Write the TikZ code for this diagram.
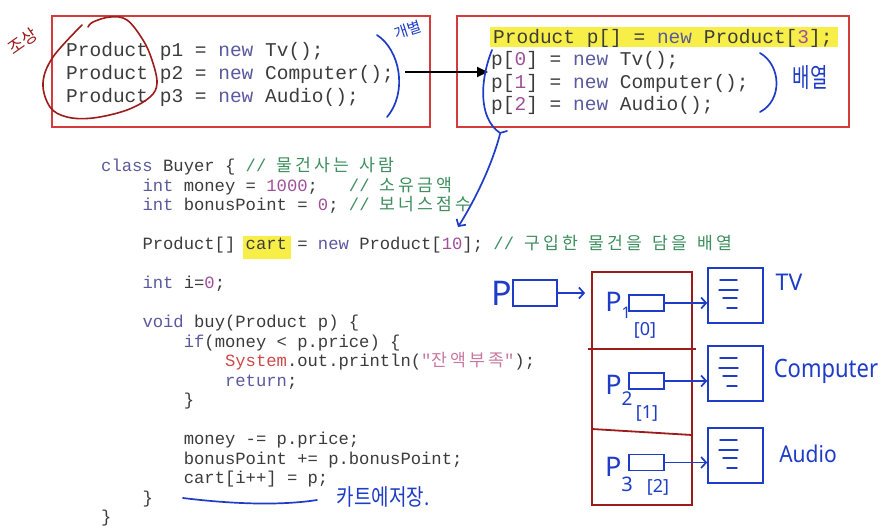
\documentclass[tikz,border=0pt]{standalone}
\usepackage{fontspec}
\setmonofont{Liberation Mono}
\newfontfamily\kr{Noto Sans CJK KR}
\newfontfamily\krs[LetterSpace=18]{Noto Sans CJK KR}
\newfontfamily\hand{Noto Sans}
\usetikzlibrary{arrows.meta}
\definecolor{codegray}{HTML}{3C3C3C}
\definecolor{kwc}{HTML}{5A5A9E}
\definecolor{numc}{HTML}{A0509A}
\definecolor{cmtc}{HTML}{3E8E5E}
\definecolor{sysc}{HTML}{D04848}
\definecolor{strc}{HTML}{C878A0}
\definecolor{boxred}{HTML}{D63A3A}
\definecolor{darkred}{HTML}{9C1C1C}
\definecolor{pen}{HTML}{1E3CC8}
\definecolor{hl}{HTML}{F8EE48}
\newcommand\Kw[1]{\textcolor{kwc}{#1}}
\newcommand\Nm[1]{\textcolor{numc}{#1}}
\newcommand\Cm[1]{\textcolor{cmtc}{#1}}
\newcommand\Sy[1]{\textcolor{sysc}{#1}}
\newcommand\St[1]{\textcolor{strc}{#1}}
\newcommand\K[1]{{\krs #1}}
\tikzset{
  code/.style={font=\fontsize{19.5}{23}\selectfont\ttfamily, text=codegray, anchor=base west, inner sep=0pt},
  bcode/.style={font=\fontsize{17.2}{19.6}\selectfont\ttfamily, text=codegray, anchor=base west, inner sep=0pt},
  redbox/.style={draw=boxred, line width=2.2pt, inner sep=0pt},
  penline/.style={draw=pen, line width=1.7pt, line cap=round},
  penarrow/.style={penline, -{Straight Barb[length=5pt,width=11pt]}},
  penbox/.style={draw=pen, line width=1.5pt, inner sep=0pt},
  pentext/.style={text=pen, inner sep=0pt},
  redpen/.style={draw=darkred, line width=1.6pt, line cap=round},
}
\begin{document}
\begin{tikzpicture}[x=1pt,y=-1pt]
\useasboundingbox (0,0) rectangle (894,531);
\fill[white] (0,0) rectangle (894,531);
% highlights
\fill[hl] (490,27) rectangle (838,47);
\fill[hl] (243,236) rectangle (291,259);
% top boxes
\node[redbox, minimum width=378pt, minimum height=111pt] (lbox) at (241,71.5) {};
\node[redbox, minimum width=392pt, minimum height=111pt] (rbox) at (653,71.5) {};
\node[code] (a1) at (66,56) {Product p1 = \Kw{new} Tv();};
\node[code] (a2) at (66,79) {Product p2 = \Kw{new} Computer();};
\node[code] (a3) at (66,102) {Product p3 = \Kw{new} Audio();};
\node[code] (b0) at (493,43) {Product p[] = \Kw{new} Product[\Nm{3}];};
\node[code] (b1) at (491,65) {p[\Nm{0}] = \Kw{new} Tv();};
\node[code] (b2) at (491,88) {p[\Nm{1}] = \Kw{new} Computer();};
\node[code] (b3) at (491,110) {p[\Nm{2}] = \Kw{new} Audio();};
% black arrow
\coordinate (ast) at (405,72);
\coordinate (aen) at (488,72);
\draw[line width=2pt, -{Triangle[length=11pt,width=10pt]}] (ast) -- (aen);
% bottom code
\node[bcode] (c1) at (101,171.5) {\Kw{class} Buyer \{ \Cm{// \K{물건사는} \K{사람}}};
\node[bcode] (c2) at (142.3,191) {\Kw{int} money = \Nm{1000};~~~\Cm{// \K{소유금액}}};
\node[bcode] (c3) at (142.3,210.5) {\Kw{int} bonusPoint = \Nm{0}; \Cm{// \K{보너스점수}}};
\node[bcode] (c4) at (142.3,249.5) {Product[] cart = \Kw{new} Product[\Nm{10}]; \Cm{// \K{구입한} \K{물건을} \K{담을} \K{배열}}};
\node[bcode] (c5) at (142.3,288.5) {\Kw{int} i=\Nm{0};};
\node[bcode] (c6) at (142.3,327.5) {\Kw{void} buy(Product p) \{};
\node[bcode] (c7) at (183.6,347) {\Kw{if}(money < p.price) \{};
\node[bcode] (c8) at (224.9,366.5) {\Sy{System}.out.println(\St{"\K{잔액부족}"});};
\node[bcode] (c9) at (224.9,386) {\Kw{return};};
\node[bcode] (c10) at (183.6,405.5) {\}};
\node[bcode] (c11) at (183.6,444.5) {money -= p.price;};
\node[bcode] (c12) at (183.6,464) {bonusPoint += p.bonusPoint;};
\node[bcode] (c13) at (183.6,483.5) {cart[i++] = p;};
\node[bcode] (c14) at (142.3,503) {\}};
\node[bcode] (c15) at (101,522.5) {\}};
% red handwriting
\draw[redpen] plot[smooth, tension=0.6] coordinates {(82,25) (53,57) (43,83) (50,107) (67,117) (93,118) (127,110) (150,97) (157,83) (152,60) (143,40) (127,20) (110,17) (93,22) (88,27)};
\node[text=darkred, inner sep=0pt, font=\kr\fontsize{17}{17}\selectfont, rotate=35] (jo) at (23,41) {조상};
% blue handwriting top
\draw[penline] (377,35) .. controls (400,50) and (408,92) .. (387,117);
\node[pentext, font=\kr\fontsize{15}{15}\selectfont, rotate=18] (gb) at (408,30) {개별};
\draw[penline] (492,50) .. controls (480,80) and (478,118) .. (500,133);
\draw[penline] (500,133) -- (507,131);
\coordinate (cst) at (500,134);
\coordinate (cen) at (458,227);
\draw[penarrow] (cst) .. controls (492,165) and (475,200) .. (cen);
\draw[penline] (760,53) .. controls (781,65) and (783,100) .. (760,112);
\node[pentext, font=\kr\fontsize{19}{19}\selectfont, yscale=1.4] (by) at (810,78) {배열};
% bottom annotation
\draw[penline] (183,498) .. controls (240,505) and (285,505) .. (317,500);
\node[pentext, font=\kr\fontsize{19}{19}\selectfont, yscale=1.2] (kt) at (383,497) {카트에저장.};
% array diagram
\node[pentext, font=\hand\fontsize{34}{34}\selectfont] (plab) at (502,293) {P};
\node[penbox, minimum width=44pt, minimum height=26pt] (pbox) at (535,293) {};
\node[draw=darkred, line width=1.8pt, inner sep=0pt, minimum width=100pt, minimum height=233pt] (arr) at (642,388.5) {};
\draw[darkred, line width=1.8pt] (588,349) -- (696,349);
\draw[darkred, line width=1.8pt] (592,429) -- (692,435);
\draw[penarrow, shorten >=6pt] (pbox.east) -- (pbox.east -| arr.west);
\node[penbox, minimum width=35pt, minimum height=16pt] (s1) at (646.5,303) {};
\node[penbox, minimum width=35pt, minimum height=16pt] (s2) at (646.5,381) {};
\node[penbox, minimum width=35pt, minimum height=16pt] (s3) at (646.5,462.5) {};
\node[penbox, minimum width=55pt, minimum height=55pt] (o1) at (735.5,295.5) {};
\node[penbox, minimum width=55pt, minimum height=55pt] (o2) at (735.5,373.5) {};
\node[penbox, minimum width=55pt, minimum height=55pt] (o3) at (735.5,455.5) {};
\foreach \o in {o1,o2,o3}{
  \draw[penline, line width=1.4pt] ([shift={(-15.5,-15.5)}]\o.center) -- ([shift={(1.5,-15.5)}]\o.center);
  \draw[penline, line width=1.4pt] ([shift={(-16.5,-5.5)}]\o.center) -- ([shift={(2.5,-5.5)}]\o.center);
  \draw[penline, line width=1.4pt] ([shift={(-12.5,2.5)}]\o.center) -- ([shift={(1.5,2.5)}]\o.center);
  \draw[penline, line width=1.4pt] ([shift={(-8.5,12.5)}]\o.center) -- ([shift={(1.5,12.5)}]\o.center);
}
\draw[penarrow] (s1.east) -- (o1.west |- s1.east);
\draw[penarrow] (s2.east) -- (o2.west |- s2.east);
\draw[penarrow] (s3.east) -- (o3.west |- s3.east);
\node[pentext, font=\hand\fontsize{27}{27}\selectfont] (p1) at (618,305) {P\raisebox{-7pt}{\fontsize{16}{16}\selectfont 1}};
\node[pentext, font=\hand\fontsize{27}{27}\selectfont] (p2) at (619,390) {P\raisebox{-11pt}{\fontsize{19}{19}\selectfont 2}};
\node[pentext, font=\hand\fontsize{27}{27}\selectfont] (p3) at (619,474) {P\raisebox{-15pt}{\fontsize{20}{20}\selectfont 3}};
\node[pentext, font=\hand\fontsize{18}{18}\selectfont] (i0) at (645,330) {[0]};
\node[pentext, font=\hand\fontsize{18}{18}\selectfont] (i1) at (647,413) {[1]};
\node[pentext, font=\hand\fontsize{18}{18}\selectfont] (i2) at (658,487) {[2]};
\node[pentext, font=\hand\fontsize{23}{23}\selectfont] (tv) at (789,282) {TV};
\node[pentext, font=\hand\fontsize{22}{22}\selectfont, yscale=1.15] (cp) at (826,371) {Computer};
\node[pentext, font=\hand\fontsize{21}{21}\selectfont, yscale=1.1] (au) at (808,454) {Audio};
\end{tikzpicture}
\end{document}
